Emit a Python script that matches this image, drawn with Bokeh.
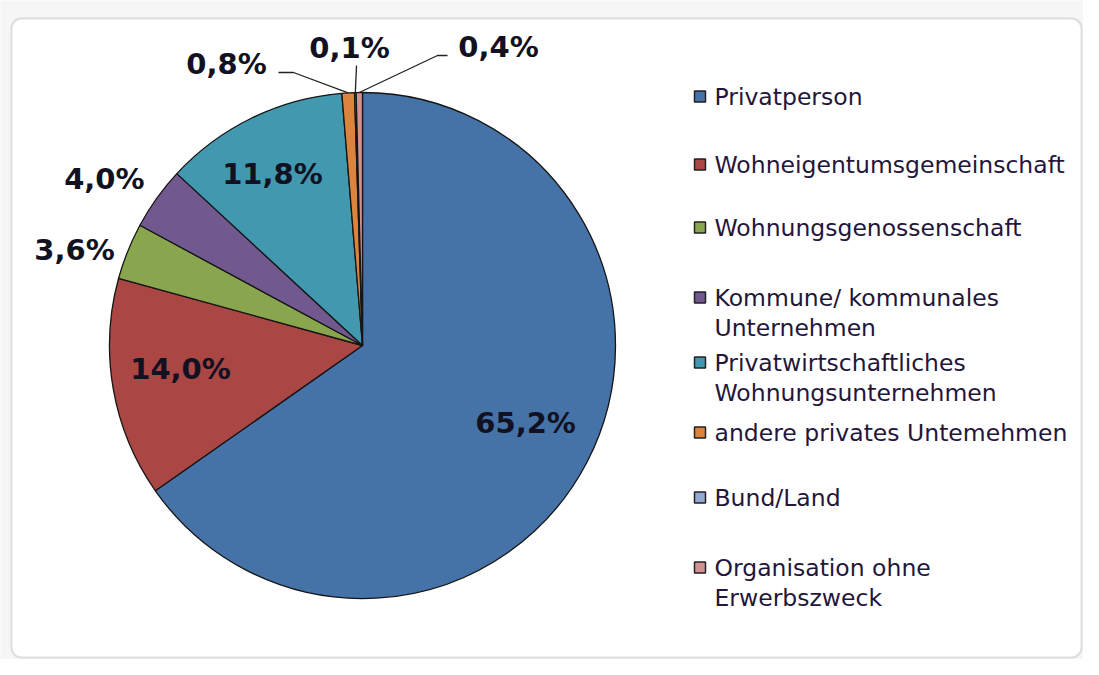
import numpy as np
from bokeh.plotting import figure
from bokeh.models import Range1d, BoxAnnotation, ColumnDataSource
from bokeh.embed import file_html
from bokeh.resources import INLINE
from bokeh.core.properties import value

# ---------------- data ----------------
categories = [
    "Privatperson",
    "Wohneigentumsgemeinschaft",
    "Wohnungsgenossenschaft",
    "Kommune/ kommunales\nUnternehmen",
    "Privatwirtschaftliches\nWohnungsunternehmen",
    "andere privates Untemehmen",
    "Bund/Land",
    "Organisation ohne\nErwerbszweck",
]
shares = [65.2, 14.0, 3.6, 4.0, 11.8, 0.8, 0.1, 0.4]
colors = ["#4572A7", "#AA4643", "#89A54E", "#71588F",
          "#4198AF", "#DB843D", "#93A9CF", "#D19392"]

# ---------------- layout ----------------
W, H = 1083, 659
def Y(py):            # page y (down) -> data y (up)
    return H - py

CX, CY, R = 362, Y(345), 253
LABEL_FONT = 29
LEG_FONT = 23.5

p = figure(width=W, height=H, output_backend="svg", toolbar_location=None,
           x_range=Range1d(0, W), y_range=Range1d(0, H),
           x_axis_location=None, y_axis_location=None, min_border=0)
p.grid.visible = False
p.outline_line_color = None
p.background_fill_color = "#f6f6f6"
p.border_fill_color = "#f6f6f6"

# chart area with rounded frame
p.add_layout(BoxAnnotation(left=11, right=1081, top=Y(18), bottom=Y(657),
                           fill_color="white", fill_alpha=1.0,
                           line_color="#9a9a9a", line_width=2, border_radius=10,
                           level="underlay"))

# ---------------- pie ----------------
vals = np.array(shares, dtype=float)
frac = vals / vals.sum()
cum = np.concatenate([[0.0], np.cumsum(frac)])
a0 = cum[:-1] * 2 * np.pi
a1 = cum[1:] * 2 * np.pi
start = np.pi / 2 - a1
end = np.pi / 2 - a0
mid = np.pi / 2 - (a0 + a1) / 2

src = ColumnDataSource(dict(start=start, end=end, color=colors,
                            cat=categories))
p.wedge(x=CX, y=CY, radius=R, start_angle="start", end_angle="end",
        direction="anticlock", fill_color="color", line_color="#151515",
        line_width=1.3, source=src)

# ---------------- data labels ----------------
labels = [("%.1f" % v).replace(".", ",") + "%" for v in shares]
# radial placement (radius factor, angle nudge in degrees) for big slices
radial = {0: (0.713, 2.2), 1: (0.725, -2.6), 2: (1.199, 3.6),
          3: (1.215, 2.7), 4: (0.767, 1.7)}
# explicit placement with leader lines for tiny slices (page coords)
placed = {5: (226, 63), 6: (349, 47), 7: (498, 46)}
leaders = {5: [(293, 72), (278, 72)], 6: [(356, 65)], 7: [(437, 55), (447, 55)]}

lx, ly, lt = [], [], []
for i, lab in enumerate(labels):
    if i in radial:
        k, rot = radial[i]
        ang = mid[i] + np.deg2rad(rot)
        x = CX + k * R * np.cos(ang)
        y = CY + k * R * np.sin(ang)
    else:
        x, py = placed[i]
        y = Y(py)
        ex = CX + R * np.cos(mid[i])
        ey = CY + R * np.sin(mid[i])
        xs = [ex] + [q[0] for q in leaders[i]]
        ys = [ey] + [Y(q[1]) for q in leaders[i]]
        p.line(xs, ys, line_color="#222222", line_width=1.3)
    lx.append(x)
    ly.append(y)
    lt.append(lab)

p.text(x=lx, y=ly, text=lt, text_align="center", text_baseline="alphabetic",
       text_font=value("DejaVu Sans"), text_font_style="bold",
       text_font_size=f"{LABEL_FONT}px", text_color="#111122")

# ---------------- legend ----------------
leg_base = [96, 164, 227, 297, 362, 432, 497, 567]   # page y of first-line text
line_gap = 30
sq_x, txt_x, sq = 699.5, 714, 11

p.rect(x=[sq_x] * len(categories), y=[Y(b) for b in leg_base],
       width=sq, height=sq, fill_color=colors, line_color="#222222", line_width=1.5)

tx, ty, tt = [], [], []
for cat, b in zip(categories, leg_base):
    for j, ln in enumerate(cat.split("\n")):
        tx.append(txt_x)
        ty.append(Y(b + j * line_gap))
        tt.append(ln)
p.text(x=tx, y=ty, text=tt, text_align="left", text_baseline="alphabetic",
       text_font=value("DejaVu Sans"), text_font_size=f"{LEG_FONT}px",
       text_color="#24163a")

open("out.html", "w").write(file_html(p, INLINE))
